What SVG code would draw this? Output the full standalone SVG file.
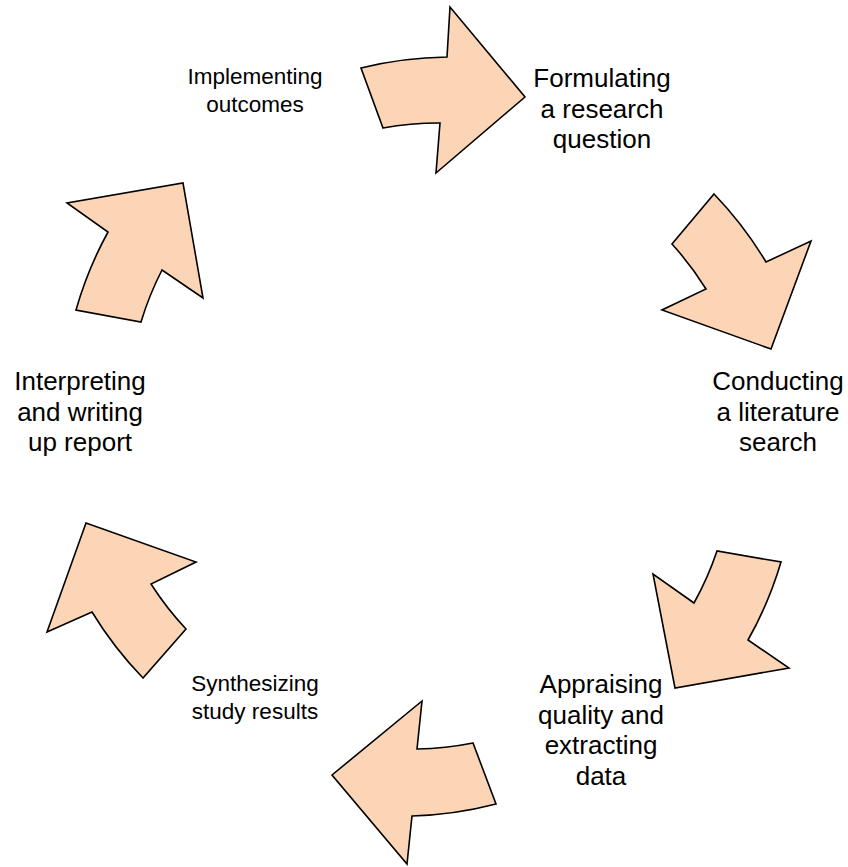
<svg xmlns="http://www.w3.org/2000/svg" width="848" height="867" viewBox="0 0 848 867">
<style>
.arrow{fill:#FBD5B5;stroke:#000;stroke-width:1.6;stroke-linejoin:miter}
.big{font-family:"Liberation Sans",Arial,sans-serif;font-size:26px;fill:#000;text-anchor:middle}
.small{font-family:"Liberation Sans",Arial,sans-serif;font-size:22.5px;fill:#000;text-anchor:middle}
</style>
<rect width="848" height="867" fill="#fff"/>
<g id="connectors">
<path id="arrow1" class="arrow" d="M361,68 A377,377 0 0 1 447,57 L450,7 L525,97 L436,173 L440,123 A312,312 0 0 0 383,128 Z"/>
<path id="arrow2" class="arrow" d="M714,194 A377,377 0 0 1 766,262 L811,241 L771,349 L662,310 L706,289 A312,312 0 0 0 672,244 Z"/>
<path id="arrow3" class="arrow" d="M781,562 A377,377 0 0 1 748,640 L789,668 L675,688 L653,574 L694,603 A312,312 0 0 0 717,551 Z"/>
<path id="arrow4" class="arrow" d="M496,804 A377,377 0 0 1 412,816 L407,864 L332,775 L422,701 L417,749 A312,312 0 0 0 473,743 Z"/>
<path id="arrow5" class="arrow" d="M143,678 A377,377 0 0 1 92,612 L47,632 L86,523 L196,562 L151,584 A312,312 0 0 0 186,629 Z"/>
<path id="arrow6" class="arrow" d="M76,310 A377,377 0 0 1 108,232 L67,203 L183,183 L203,298 L162,270 A312,312 0 0 0 141,322 Z"/>
</g>
<g id="node-formulating">
<text class="big" x="602" y="87">Formulating</text>
<text class="big" x="602" y="117.5">a research</text>
<text class="big" x="602" y="148">question</text>
</g>
<g id="node-conducting">
<text class="big" x="778" y="390">Conducting</text>
<text class="big" x="778" y="420.5">a literature</text>
<text class="big" x="778" y="451">search</text>
</g>
<g id="node-appraising">
<text class="big" x="601" y="693">Appraising</text>
<text class="big" x="601" y="723.5">quality and</text>
<text class="big" x="601" y="754">extracting</text>
<text class="big" x="601" y="784.5">data</text>
</g>
<g id="node-synthesizing">
<text class="small" x="255" y="691">Synthesizing</text>
<text class="small" x="255" y="719">study results</text>
</g>
<g id="node-interpreting">
<text class="big" x="80" y="390">Interpreting</text>
<text class="big" x="80" y="420.5">and writing</text>
<text class="big" x="80" y="451">up report</text>
</g>
<g id="node-implementing">
<text class="small" x="255" y="84">Implementing</text>
<text class="small" x="255" y="112">outcomes</text>
</g>
</svg>
